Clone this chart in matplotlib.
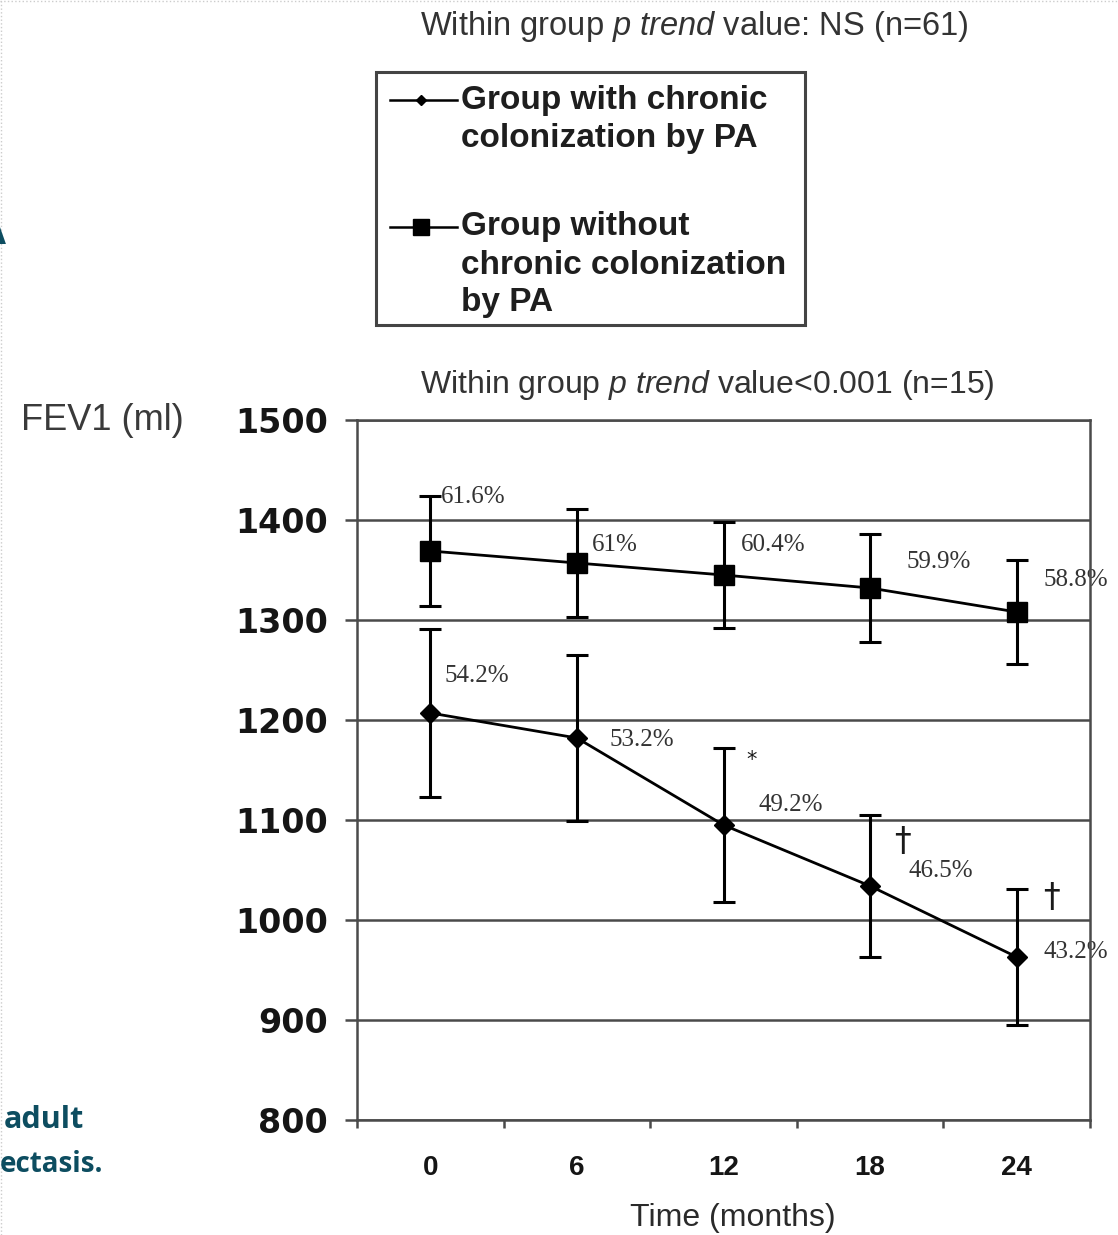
import numpy as np
import matplotlib
matplotlib.use("Agg")
import matplotlib.pyplot as plt
from matplotlib.lines import Line2D
from matplotlib.patches import Rectangle
from matplotlib.ticker import FixedLocator, NullFormatter

plt.rcParams['font.family'] = ['Liberation Sans', 'DejaVu Sans']
plt.rcParams['mathtext.fontset'] = 'custom'
plt.rcParams['mathtext.rm'] = 'Liberation Sans'
plt.rcParams['mathtext.it'] = 'Liberation Sans:italic'

# ---------------- data ----------------
months = ['0', '6', '12', '18', '24']
fev_without = [1369, 1357, 1345, 1332, 1308]     # group without chronic colonization (squares)
err_without = [55, 54, 53, 54, 52]
fev_with = [1207, 1182, 1095, 1034, 963]         # group with chronic colonization (diamonds)
err_with = [84, 83, 77, 71, 68]
pct_without = ['61.6%', '61%', '60.4%', '59.9%', '58.8%']
pct_with = ['54.2%', '53.2%', '49.2%', '46.5%', '43.2%']
sig_marks = ['*', '\u2020', '\u2020']
yticks = [800, 900, 1000, 1100, 1200, 1300, 1400, 1500]

# ---------------- layout (label anchor positions, data coords) ----------------
pos_pct_without = [(0.075, 1423), (1.10, 1375), (2.12, 1375), (3.25, 1358), (4.18, 1340)]
pos_pct_with = [(0.10, 1244), (1.22, 1180), (2.24, 1115), (3.26, 1049), (4.18, 968)]
pos_sig = [(2.19, 1160), (3.22, 1078), (4.24, 1023)]

W, H = 1118, 1235
fig = plt.figure(figsize=(W / 100, H / 100), dpi=100)
fig.patch.set_facecolor('white')

def fx(px):
    return px / W

def fy(py):
    return 1 - py / H

ax = fig.add_axes([fx(357), fy(1120), fx(1090) - fx(357), fy(420) - fy(1120)])
x = np.arange(len(months))

gridc = '#4a4a4a'
ax.set_xlim(-0.5, len(months) - 0.5)
ax.set_ylim(800, 1500)
ax.set_yticks(yticks)
ax.set_yticklabels([str(v) for v in yticks], fontfamily='DejaVu Sans',
                   fontweight='bold', fontsize=24, color='#151515')
ax.tick_params(axis='y', direction='out', length=9, width=1.8, color=gridc, pad=12)
ax.yaxis.grid(True, color=gridc, linewidth=1.8)
ax.set_axisbelow(True)

ax.set_xticks(x)
ax.set_xticklabels(months, fontweight='bold', fontsize=20, color='#151515')
ax.tick_params(axis='x', which='major', length=0, pad=25)
ax.xaxis.set_minor_locator(FixedLocator(np.arange(-0.5, len(months), 1.0)))
ax.xaxis.set_minor_formatter(NullFormatter())
ax.tick_params(axis='x', which='minor', direction='out', length=6, width=1.8, color=gridc)

for s in ax.spines.values():
    s.set_color(gridc)
    s.set_linewidth(1.8)

# series
ax.errorbar(x, fev_without, yerr=err_without, fmt='-', color='black', lw=2.0,
            elinewidth=2.2, capsize=8, capthick=2.2, marker='s', markersize=14,
            markerfacecolor='black', markeredgecolor='black', zorder=3)
ax.errorbar(x, fev_with, yerr=err_with, fmt='-', color='black', lw=2.0,
            elinewidth=2.2, capsize=8, capthick=2.2, marker='D', markersize=10,
            markerfacecolor='black', markeredgecolor='black', zorder=3)

for lab, (px, py) in zip(pct_without, pos_pct_without):
    ax.text(px, py, lab, fontfamily='Liberation Serif', fontsize=18, color='#333333',
            ha='left', va='center', clip_on=False, zorder=2)
for lab, (px, py) in zip(pct_with, pos_pct_with):
    ax.text(px, py, lab, fontfamily='Liberation Serif', fontsize=18, color='#333333',
            ha='left', va='center', clip_on=False, zorder=2)
for i, (lab, (px, py)) in enumerate(zip(sig_marks, pos_sig)):
    ax.text(px, py, lab, fontfamily='DejaVu Sans', fontsize=15 if i == 0 else 24,
            color='#1a1a1a', ha='center', va='center', clip_on=False)

# axis titles
fig.text(fx(102), fy(420), 'FEV1 (ml)', fontsize=26, color='#3a3a3a', ha='center', va='center')
fig.text(fx(733), fy(1218), 'Time (months)', fontsize=23, color='#2a2a2a', ha='center', va='center')

# group trend annotations
fig.text(fx(420), fy(27), r'Within group $\mathit{p\ trend}$ value: NS (n=61)',
         fontsize=23.5, color='#333333', ha='left', va='center')
fig.text(fx(420), fy(385), r'Within group $\mathit{p\ trend}$ value<0.001 (n=15)',
         fontsize=23, color='#333333', ha='left', va='center')

# legend box (drawn manually)
fig.patches.append(Rectangle((fx(376), fy(325)), fx(805) - fx(376), fy(72) - fy(325),
                             transform=fig.transFigure, fill=False, edgecolor='#444444',
                             linewidth=2.2))
fig.lines.append(Line2D([fx(390), fx(457)], [fy(100), fy(100)], transform=fig.transFigure,
                        color='black', lw=1.8))
fig.lines.append(Line2D([fx(421)], [fy(100)], transform=fig.transFigure, color='black',
                        marker='D', markersize=5, lw=0))
fig.lines.append(Line2D([fx(390), fx(457)], [fy(227), fy(227)], transform=fig.transFigure,
                        color='black', lw=1.8))
fig.lines.append(Line2D([fx(421)], [fy(227)], transform=fig.transFigure, color='black',
                        marker='s', markersize=12, lw=0))
leg_lines = [('Group with chronic', 100), ('colonization by PA', 138),
             ('Group without', 227), ('chronic colonization', 266), ('by PA', 303)]
for t, py in leg_lines:
    fig.text(fx(461), fy(py), t, fontsize=24, fontweight='bold', color='#1e1e1e',
             ha='left', va='center')

# slide fragments on the left edge
teal = '#0d4d60'
fig.text(fx(6), fy(235), 'A', fontsize=26, fontweight='bold', color=teal,
         ha='right', va='center', fontfamily='Open Sans')
fig.text(fx(4), fy(1120), 'adult', fontsize=22, fontweight='bold', color=teal,
         ha='left', va='center', fontfamily='Open Sans')
fig.text(fx(0), fy(1165), 'ectasis.', fontsize=20, fontweight='bold', color=teal,
         ha='left', va='center', fontfamily='Open Sans')

# dotted screenshot border
fig.lines.append(Line2D([0, 1], [0.999, 0.999], transform=fig.transFigure,
                        color='#cccccc', lw=1, ls=':'))
fig.lines.append(Line2D([0.001, 0.001], [0, 1], transform=fig.transFigure,
                        color='#cccccc', lw=1, ls=':'))

fig.savefig('out.png', dpi=100, facecolor='white')
